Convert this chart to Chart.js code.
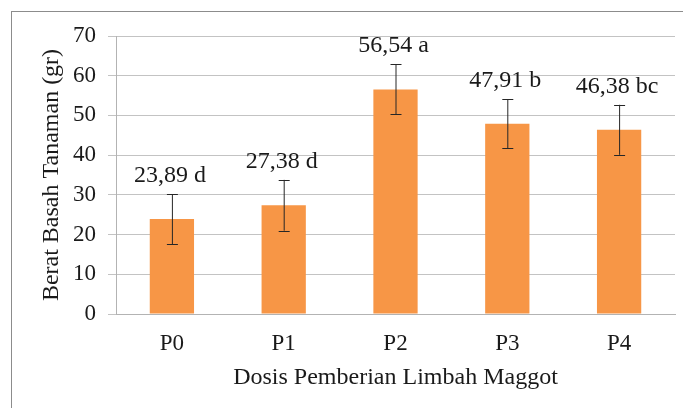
<!DOCTYPE html>
<html>
<head>
<meta charset="utf-8">
<script src="https://cdn.jsdelivr.net/npm/chart.js@4.4.1/dist/chart.umd.min.js"></script>
<style>
  html, body { margin: 0; padding: 0; background: #fff; overflow: hidden; }
  #wrap { position: relative; width: 683px; height: 408px; }
  #frame { position: absolute; left: 11px; top: 11px; width: 700px; height: 420px; border: 1px solid #8c8c8c; box-sizing: border-box; }
  canvas { position: absolute; left: 0; top: 0; }
</style>
</head>
<body>
<div id="wrap">
  <div id="frame"></div>
  <canvas id="chart" width="683" height="408"></canvas>
</div>
<script>
// data
const categories = ['P0', 'P1', 'P2', 'P3', 'P4'];
const means = [23.89, 27.38, 56.54, 47.91, 46.38];
const errors = [6.3, 6.4, 6.3, 6.2, 6.3];
const notations = ['23,89 d', '27,38 d', '56,54 a', '47,91 b', '46,38 bc'];
const yTicks = [0, 10, 20, 30, 40, 50, 60, 70];

const serif = "'Liberation Serif', 'Times New Roman', serif";
const textColor = '#1a1a1a';

// error bars + letter labels drawn over the bars
const extras = {
  id: 'extras',
  afterDatasetsDraw(chart) {
    const ctx = chart.ctx;
    const y = chart.scales.y;
    const meta = chart.getDatasetMeta(0);
    ctx.save();
    meta.data.forEach((bar, i) => {
      const x = bar.x;
      const top = y.getPixelForValue(means[i] + errors[i]);
      const bottom = y.getPixelForValue(means[i] - errors[i]);
      ctx.strokeStyle = '#262626';
      ctx.lineWidth = 1;
      ctx.beginPath();
      ctx.moveTo(x + 0.5, top);
      ctx.lineTo(x + 0.5, bottom);
      ctx.moveTo(x - 5, Math.round(top) + 0.5);
      ctx.lineTo(x + 6, Math.round(top) + 0.5);
      ctx.moveTo(x - 5, Math.round(bottom) + 0.5);
      ctx.lineTo(x + 6, Math.round(bottom) + 0.5);
      ctx.stroke();

      ctx.fillStyle = textColor;
      ctx.font = '24px ' + serif;
      ctx.textAlign = 'center';
      ctx.textBaseline = 'alphabetic';
      ctx.fillText(notations[i], x - 2, top - 12);
    });
    ctx.restore();
  }
};

new Chart(document.getElementById('chart'), {
  type: 'bar',
  data: {
    labels: categories,
    datasets: [{
      data: means,
      backgroundColor: '#f79646',
      borderWidth: 0,
      categoryPercentage: 1.0,
      barPercentage: 0.396
    }]
  },
  options: {
    responsive: false,
    animation: false,
    layout: { padding: { top: 36, right: 8, left: 0, bottom: 0 } },
    plugins: { legend: { display: false }, tooltip: { enabled: false } },
    scales: {
      x: {
        grid: { display: false, drawTicks: false },
        border: { display: true, color: '#b3b3b3' },
        ticks: { color: textColor, font: { family: serif, size: 23 }, padding: 16 },
        title: {
          display: true,
          text: 'Dosis Pemberian Limbah Maggot',
          color: textColor,
          font: { family: serif, size: 24 },
          padding: { top: 0, bottom: 16 }
        },
        afterFit(scale) { scale.height = 94; }
      },
      y: {
        min: 0,
        max: 70,
        afterBuildTicks(scale) { scale.ticks = yTicks.map(v => ({ value: v })); },
        grid: { color: '#c3c3c3', tickLength: 8, drawTicks: true },
        border: { display: true, color: '#b3b3b3' },
        ticks: { color: textColor, font: { family: serif, size: 23 }, padding: 12 },
        title: {
          display: true,
          text: 'Berat Basah Tanaman (gr)',
          color: textColor,
          font: { family: serif, size: 24 },
          padding: { top: 37, bottom: 0 }
        },
        afterFit(scale) { scale.width = 116; }
      }
    }
  },
  plugins: [extras]
});
</script>
</body>
</html>
